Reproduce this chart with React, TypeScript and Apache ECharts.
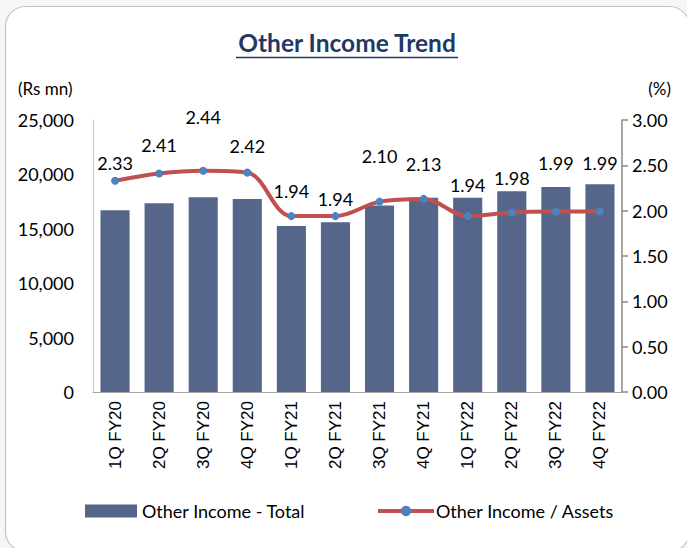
import React, { useEffect, useRef } from "react";
import * as echarts from "echarts";

const categories = ["1Q FY20", "2Q FY20", "3Q FY20", "4Q FY20", "1Q FY21", "2Q FY21", "3Q FY21", "4Q FY21", "1Q FY22", "2Q FY22", "3Q FY22", "4Q FY22"];
const otherIncomeTotal = [16700, 17350, 17900, 17750, 15250, 15600, 17150, 17850, 17850, 18450, 18850, 19100];
const otherIncomeAssets = [2.33, 2.41, 2.44, 2.42, 1.94, 1.94, 2.10, 2.13, 1.94, 1.98, 1.99, 1.99];
const labelDistances = [5, 15, 41, 14, 12, 4, 33, 22, 18, 21, 36, 36];

const FONT = "Lato";

export default function App() {
  const ref = useRef<HTMLDivElement>(null);
  useEffect(() => {
    const chart = echarts.init(ref.current!, null, { renderer: "svg" });
    chart.setOption({
      animation: false,
      backgroundColor: "#f6f6f6",
      graphic: [
        {
          type: "rect",
          shape: { x: 5.5, y: 6.5, width: 684, height: 545, r: 20 },
          style: { fill: "#ffffff", stroke: "#bcc3d2", lineWidth: 1.2 },
          z: -10,
        },
        {
          type: "text",
          x: 347,
          y: 42,
          style: {
            text: "Other Income Trend",
            font: `bold 24.5px ${FONT}`,
            fill: "#1f3864",
            align: "center",
            verticalAlign: "middle",
          },
        },
        {
          type: "line",
          shape: { x1: 236, y1: 57.5, x2: 458, y2: 57.5 },
          style: { stroke: "#1f3864", lineWidth: 1.3 },
        },
        {
          type: "text",
          x: 18,
          y: 88,
          style: { text: "(Rs mn)", font: `17px ${FONT}`, fill: "#000", verticalAlign: "middle" },
        },
        {
          type: "text",
          x: 671,
          y: 88,
          style: { text: "(%)", font: `17px ${FONT}`, fill: "#000", align: "right", verticalAlign: "middle" },
        },
      ],
      grid: { left: 93, right: 65, top: 120, bottom: 156 },
      legend: [
        {
          left: 80,
          top: 497,
          itemWidth: 52,
          itemHeight: 13,
          textStyle: { fontFamily: FONT, fontSize: 18, color: "#000" },
          data: [{ name: "Other Income - Total", icon: "rect" }],
        },
        {
          left: 371,
          top: 497,
          itemWidth: 56,
          itemHeight: 13,
          lineStyle: { width: 4, color: "#c0504d" },
          textStyle: { fontFamily: FONT, fontSize: 18, color: "#000", padding: [0, 0, 0, -3] },
          data: [{ name: "Other Income / Assets" }],
        },
      ],
      xAxis: {
        type: "category",
        data: categories,
        axisLine: { lineStyle: { color: "#a6a6a6", width: 1 } },
        axisTick: { show: false },
        axisLabel: {
          rotate: 90,
          fontFamily: "Liberation Sans",
          fontSize: 17,
          color: "#000",
          margin: 9,
          interval: 0,
        },
      },
      yAxis: [
        {
          type: "value",
          min: 0,
          max: 25000,
          interval: 5000,
          axisLine: { show: true, lineStyle: { color: "#c8c8c8" } },
          axisTick: { show: false },
          splitLine: { show: false },
          axisLabel: {
            fontFamily: FONT,
            fontSize: 18,
            color: "#000",
            margin: 19,
            formatter: (v: number) => v.toLocaleString("en-US"),
          },
        },
        {
          type: "value",
          min: 0,
          max: 3,
          interval: 0.5,
          position: "right",
          axisLine: { show: true, lineStyle: { color: "#888888", width: 1.5 } },
          axisTick: { show: true, inside: false, length: 6, lineStyle: { color: "#888888", width: 1.5 } },
          splitLine: { show: false },
          axisLabel: {
            fontFamily: FONT,
            fontSize: 18,
            color: "#000",
            margin: 10,
            formatter: (v: number) => v.toFixed(2),
          },
        },
      ],
      series: [
        {
          name: "Other Income - Total",
          type: "bar",
          yAxisIndex: 0,
          data: otherIncomeTotal,
          barWidth: "66%",
          itemStyle: { color: "#55668a" },
        },
        {
          name: "Other Income / Assets",
          type: "line",
          yAxisIndex: 1,
          smooth: 0.35,
          z: 5,
          data: otherIncomeAssets.map((v, i) => ({
            value: v,
            label: { distance: labelDistances[i] },
          })),
          symbol: "circle",
          symbolSize: 8,
          itemStyle: { color: "#4f81bd" },
          lineStyle: { color: "#c0504d", width: 4 },
          label: {
            show: true,
            position: "top",
            fontFamily: FONT,
            fontSize: 18,
            color: "#000",
            formatter: (p: any) => Number(p.value).toFixed(2),
          },
        },
      ],
    });
    return () => chart.dispose();
  }, []);
  return (
    <div
      ref={ref}
      style={{ position: "fixed", left: 0, top: 0, width: 687, height: 548 }}
    />
  );
}
